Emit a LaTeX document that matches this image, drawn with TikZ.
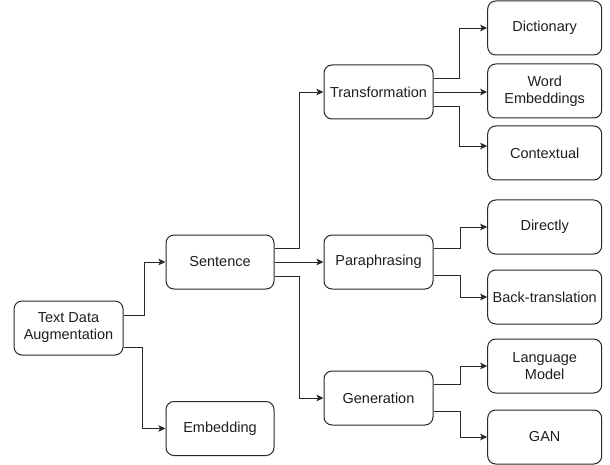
\documentclass[tikz,border=0pt]{standalone}
\usepackage{fontspec}
\setmainfont{Liberation Sans}
\usetikzlibrary{calc}
\usetikzlibrary{positioning}
\usetikzlibrary{arrows.meta}

\begin{document}
\begin{tikzpicture}[x=1pt,y=-1pt,->,>={Stealth[length=7pt,width=6.5pt,inset=1.5pt]},
line width=0.9pt,draw={rgb,255:red,40;green,40;blue,40},
every node/.style={font=\fontsize{14.5}{17}\selectfont,align=center,text={rgb,255:red,30;green,30;blue,30}},
box/.style={draw,rounded corners=8pt,minimum height=54pt,inner sep=1pt,line width=1pt},
midbox/.style={box,minimum width=109pt},
leafbox/.style={box,minimum width=114pt}]
\useasboundingbox (0,0) rectangle (610,465);

\node[midbox]  (tda) at (68.5,328)  {Text Data\\Augmentation};
\node[midbox,minimum width=108pt] (sen) at (220,262)   {Sentence};
\node[midbox,minimum width=108pt] (emb) at (220,428.5) {Embedding};

\node[midbox]  (tr)  at (378.5,92)  {Transformation};
\node[midbox]  (par) at (378.5,262) {Paraphrasing};
\node[midbox]  (gen) at (378.5,398) {Generation};

\node[leafbox] (dic) at (544.7,28)  {Dictionary};
\node[leafbox] (we)  at (544.7,91)  {Word\\Embeddings};
\node[leafbox] (ctx) at (544.7,153) {Contextual};
\node[leafbox] (dir) at (544.7,227) {Directly};
\node[leafbox] (bt)  at (544.7,297) {Back-translation};
\node[leafbox] (lm)  at (544.7,366) {Language\\Model};
\node[leafbox] (gan) at (544.7,437) {GAN};

\draw ($(tda.east)+(0,-13)$) -- ++(21,0) |- (sen.west);
\draw ($(tda.east)+(0,19)$)  -- ++(19,0) |- (emb.west);

\draw ($(sen.east)+(0,-14)$) -- ++(25,0) |- (tr.west);
\draw (sen.east) -- (par.west);
\draw ($(sen.east)+(0,14)$)  -- ++(25,0) |- (gen.west);

\draw ($(tr.east)+(0,-13.5)$) -- ++(26,0) |- (dic.west);
\draw (tr.east) -- (tr.east -| we.west);
\draw ($(tr.east)+(0,14)$)    -- ++(26,0) |- ($(ctx.west)+(0,-7)$);

\draw ($(par.east)+(0,-13.5)$) -- ++(27,0) |- (dir.west);
\draw ($(par.east)+(0,13.5)$)  -- ++(27,0) |- (bt.west);

\draw ($(gen.east)+(0,-14)$) -- ++(27,0) |- (lm.west);
\draw ($(gen.east)+(0,13)$)  -- ++(27,0) |- (gan.west);

\end{tikzpicture}
\end{document}
